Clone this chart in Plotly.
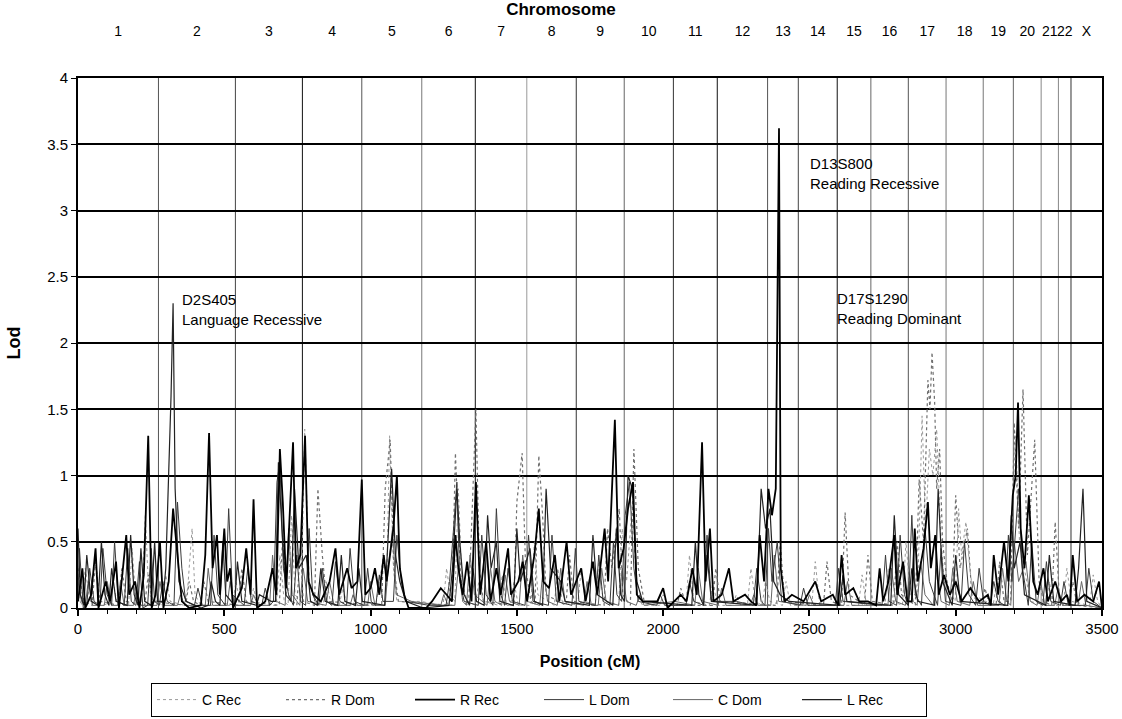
import plotly.graph_objects as go

# ---------------- data ----------------
chrom_labels = ["1", "2", "3", "4", "5", "6", "7", "8", "9", "10", "11", "12",
                "13", "14", "15", "16", "17", "18", "19", "20", "21", "22", "X"]
chrom_bounds = [0, 275, 538, 767, 970, 1175, 1358, 1534, 1703, 1867, 2035, 2185,
                2357, 2462, 2595, 2710, 2838, 2967, 3094, 3197, 3292, 3351, 3394, 3500]

# (position cM, lod) pairs per series
r_rec = [(0,0.05),(15,0.3),(25,0),(45,0.1),(60,0.45),(70,0),(95,0.2),(110,0.05),(130,0.35),(140,0),(165,0.55),(175,0.1),(195,0.2),(210,0),(225,0.25),(240,1.3),(252,0),(265,0.1),(280,0.5),(292,0),(310,0.2),(325,0.75),(340,0.4),(355,0.05),(380,0),(420,0.02),(435,0.4),(448,1.32),(460,0.3),(475,0.55),(485,0.1),(500,0.6),(510,0.2),(520,0.3),(530,0),(560,0.15),(575,0.45),(590,0.1),(600,0.82),(612,0),(640,0.05),(665,0.3),(678,0.1),(690,1.2),(700,0.8),(712,0.15),(735,1.25),(745,0.3),(760,0.4),(776,1.3),(788,0.2),(805,0.1),(830,0.05),(860,0.2),(880,0.45),(893,0.1),(920,0.3),(935,0.15),(955,0.2),(970,0.97),(982,0.1),(1000,0.15),(1015,0.3),(1030,0.1),(1045,0.4),(1055,0.2),(1078,0.6),(1090,1.0),(1100,0.3),(1115,0.1),(1130,0),(1190,0),(1210,0.05),(1240,0.15),(1260,0.1),(1278,0.05),(1290,0.55),(1300,0.3),(1315,0.1),(1330,0.35),(1345,0.05),(1360,0.95),(1375,0.1),(1395,0.5),(1410,0.05),(1430,0.3),(1445,0.1),(1470,0.45),(1480,0.1),(1505,0.2),(1520,0.35),(1535,0.05),(1560,0.4),(1575,0.75),(1590,0.2),(1610,0.15),(1630,0.4),(1645,0.05),(1670,0.5),(1685,0.1),(1720,0.3),(1735,0.05),(1760,0.35),(1775,0.1),(1800,0.6),(1812,0.2),(1835,1.42),(1848,0.3),(1865,0.45),(1880,0.75),(1897,0.95),(1910,0.1),(1930,0.05),(1980,0.05),(2000,0.15),(2015,0),(2060,0.1),(2080,0.05),(2100,0.3),(2115,0.1),(2133,1.25),(2145,0.2),(2160,0.6),(2172,0.05),(2200,0.1),(2225,0.3),(2240,0.05),(2280,0.1),(2300,0.05),(2318,0.02),(2330,0.55),(2345,0.2),(2360,0.9),(2372,0.7),(2385,0.9),(2396,3.62),(2402,0.3),(2415,0.05),(2440,0.1),(2480,0.05),(2520,0.2),(2540,0.05),(2580,0.1),(2598,0.02),(2610,0.4),(2622,0.1),(2650,0.15),(2670,0.05),(2700,0.05),(2728,0.02),(2740,0.3),(2752,0.05),(2770,0.2),(2790,0.55),(2800,0.1),(2820,0.35),(2835,0.05),(2850,0.05),(2860,0.6),(2870,0.2),(2890,0.45),(2905,0.8),(2915,0.3),(2930,0.55),(2942,0.1),(2960,0.25),(2980,0.1),(3000,0.2),(3020,0.05),(3050,0.15),(3080,0.05),(3110,0.1),(3120,0.02),(3130,0.4),(3145,0.1),(3165,0.5),(3180,0.2),(3195,0.85),(3205,1.0),(3213,1.55),(3222,0.6),(3235,0.3),(3250,0.85),(3265,0.2),(3280,0.1),(3300,0.3),(3315,0.05),(3340,0.2),(3360,0.05),(3380,0.1),(3390,0.02),(3400,0.4),(3415,0.05),(3440,0.1),(3470,0.05),(3490,0.2),(3500,0)]

l_rec = [(0,0.6),(8,0.1),(20,0.02),(30,0.4),(45,0.05),(68,0.02),(80,0.5),(92,0.1),(105,0.02),(115,0.3),(130,0.05),(168,0.02),(180,0.55),(192,0.1),(205,0.02),(215,0.45),(228,0.05),(250,0.02),(262,0.5),(272,0.05),(290,0.05),(300,0.3),(318,1.6),(325,2.3),(332,0.9),(345,0.2),(370,0.05),(420,0),(445,0.02),(455,0.2),(470,0.05),(485,0.02),(495,0.5),(505,0.1),(535,0.02),(545,0.35),(560,0.05),(610,0.02),(620,0.1),(660,0.05),(675,0.05),(685,1.1),(697,0.6),(710,0.1),(728,0.05),(740,0.9),(755,0.3),(780,0.4),(795,0.05),(818,0.02),(830,0.3),(845,0.05),(888,0.02),(900,0.4),(912,0.05),(948,0.02),(960,0.3),(972,0.05),(1048,0.02),(1060,0.5),(1072,1.05),(1085,0.4),(1100,0.2),(1120,0.05),(1180,0),(1268,0.02),(1280,0.3),(1295,0.9),(1305,0.5),(1320,0.1),(1338,0.02),(1350,0.3),(1362,0.05),(1388,0.02),(1400,0.7),(1412,0.3),(1430,0.5),(1442,0.05),(1488,0.02),(1500,0.6),(1512,0.2),(1545,0.45),(1560,0.05),(1588,0.02),(1600,0.9),(1615,0.3),(1650,0.2),(1665,0.05),(1748,0.02),(1760,0.55),(1775,0.1),(1828,0.02),(1840,0.6),(1855,0.1),(1868,0.05),(1880,1.0),(1895,0.9),(1910,0.2),(1930,0.05),(2098,0.02),(2110,0.5),(2122,0.1),(2138,0.02),(2150,0.4),(2165,0.05),(2320,0.02),(2335,0.9),(2350,0.6),(2365,0.75),(2378,0.2),(2400,0.1),(2430,0.05),(2603,0.02),(2615,0.25),(2628,0.05),(2778,0.02),(2790,0.7),(2805,0.1),(2838,0.02),(2850,0.3),(2870,0.05),(2928,0.02),(2940,0.9),(2955,0.2),(2988,0.02),(3000,0.4),(3015,0.05),(3178,0.02),(3190,0.7),(3200,0.3),(3220,0.5),(3235,0.1),(3308,0.02),(3320,0.4),(3335,0.05),(3408,0.02),(3420,0.3),(3435,0.9),(3448,0.05),(3500,0)]

r_dom = [(0,0.3),(20,0.05),(48,0.02),(60,0.35),(75,0.05),(138,0.02),(150,0.3),(165,0.05),(228,0.02),(240,0.25),(255,0.05),(368,0.02),(380,0.2),(395,0.05),(418,0.02),(430,0.2),(445,0.05),(548,0.02),(560,0.3),(575,0.05),(688,0.02),(700,0.55),(712,0.1),(748,0.02),(760,0.45),(770,0.05),(808,0.02),(820,0.9),(835,0.4),(850,0.05),(1038,0.02),(1050,0.9),(1067,1.27),(1080,0.3),(1095,0.05),(1278,0.02),(1290,1.17),(1302,0.5),(1315,0.05),(1335,0.02),(1345,0.6),(1360,1.5),(1372,0.3),(1385,0.05),(1490,0.02),(1500,0.8),(1518,1.17),(1530,0.3),(1548,0.05),(1562,0.02),(1575,1.15),(1588,0.7),(1600,0.1),(1668,0.02),(1680,0.4),(1695,0.05),(1798,0.02),(1810,0.6),(1825,0.3),(1850,0.75),(1862,0.1),(1888,0.02),(1900,1.2),(1915,0.3),(1935,0.05),(2048,0.02),(2060,0.15),(2080,0.02),(2168,0.02),(2180,0.3),(2195,0.05),(2388,0.02),(2400,0.5),(2415,0.05),(2548,0.02),(2560,0.35),(2575,0.05),(2610,0.02),(2622,0.72),(2636,0.1),(2688,0.02),(2700,0.4),(2715,0.05),(2788,0.02),(2800,0.5),(2815,0.1),(2862,0.02),(2875,0.97),(2890,0.5),(2905,1.72),(2912,1.5),(2919,1.93),(2928,1.55),(2935,0.9),(2945,1.2),(2955,0.5),(2970,0.2),(2988,0.05),(3000,0.85),(3015,0.3),(3040,0.6),(3055,0.1),(3088,0.02),(3100,0.15),(3115,0.02),(3138,0.02),(3150,0.35),(3165,0.05),(3188,0.05),(3200,1.4),(3215,0.6),(3230,1.65),(3245,0.4),(3270,1.27),(3285,0.2),(3300,0.05),(3328,0.02),(3340,0.65),(3355,0.05),(3388,0.02),(3400,0.2),(3415,0.02),(3500,0)]

l_dom = [(0,0.1),(5,0.45),(18,0),(30,0.02),(40,0.3),(55,0.05),(75,0.02),(85,0.45),(100,0.1),(115,0.02),(125,0.5),(138,0.05),(158,0.02),(170,0.45),(182,0.05),(198,0.02),(210,0.35),(222,0),(238,0.02),(250,0.45),(262,0.05),(278,0.02),(290,0.2),(305,0.05),(328,0.02),(340,0.8),(355,0.3),(368,0.05),(398,0.02),(410,0.15),(425,0.02),(453,0.02),(465,0.55),(478,0.1),(503,0.02),(515,0.75),(528,0.1),(568,0.02),(580,0.3),(592,0.05),(628,0.02),(640,0.15),(655,0.02),(668,0.05),(680,0.95),(690,1.1),(702,0.3),(720,0.1),(736,0.02),(748,0.4),(760,0.05),(778,0.02),(790,0.6),(802,0.1),(823,0.02),(835,0.3),(850,0.05),(868,0.02),(880,0.35),(895,0.05),(918,0.02),(930,0.45),(945,0.05),(978,0.02),(990,0.3),(1002,0.05),(1018,0.02),(1030,0.25),(1042,0.05),(1078,0.05),(1090,0.55),(1105,0.2),(1120,0.05),(1200,0.02),(1258,0.02),(1270,0.2),(1282,0.55),(1295,0.95),(1305,0.2),(1320,0.05),(1368,0.02),(1380,0.55),(1395,0.1),(1418,0.02),(1430,0.75),(1445,0.1),(1458,0.02),(1470,0.3),(1485,0.05),(1528,0.02),(1540,0.55),(1555,0.05),(1608,0.02),(1620,0.55),(1635,0.05),(1688,0.02),(1700,0.45),(1712,0.05),(1768,0.02),(1780,0.4),(1795,0.05),(1818,0.02),(1830,0.5),(1842,0.1),(1858,0.05),(1870,0.7),(1885,0.95),(1900,0.3),(1915,0.05),(1978,0.02),(1990,0.1),(2005,0.02),(2078,0.02),(2090,0.2),(2105,0.05),(2138,0.02),(2150,0.55),(2165,0.05),(2250,0.05),(2308,0.02),(2320,0.3),(2335,0.05),(2348,0.02),(2360,0.6),(2372,0.2),(2390,0.5),(2405,0.05),(2468,0.02),(2480,0.15),(2495,0.02),(2588,0.02),(2600,0.3),(2615,0.05),(2748,0.02),(2760,0.4),(2772,0.05),(2798,0.02),(2810,0.55),(2825,0.1),(2838,0.02),(2850,0.7),(2862,0.1),(2883,0.02),(2895,0.6),(2910,0.2),(2938,0.02),(2950,0.45),(2965,0.05),(3018,0.02),(3030,0.5),(3045,0.1),(3068,0.02),(3080,0.3),(3095,0.05),(3118,0.02),(3130,0.2),(3145,0.05),(3168,0.02),(3180,0.55),(3192,0.2),(3215,0.9),(3228,0.3),(3248,0.02),(3260,0.5),(3275,0.05),(3298,0.02),(3310,0.35),(3325,0.05),(3358,0.02),(3370,0.2),(3385,0.02),(3443,0.02),(3455,0.3),(3470,0.05),(3500,0)]

c_dom = [(0,0.2),(12,0.05),(25,0.02),(35,0.2),(50,0.02),(90,0.02),(100,0.2),(115,0.02),(135,0.02),(145,0.2),(158,0.02),(190,0.02),(200,0.15),(215,0.02),(270,0.02),(280,0.2),(295,0.02),(340,0.02),(350,0.1),(365,0.02),(435,0.02),(445,0.3),(460,0.02),(510,0.02),(520,0.2),(535,0.02),(590,0.02),(600,0.1),(615,0.02),(655,0.02),(665,0.4),(678,0.05),(708,0.02),(720,0.6),(732,0.1),(758,0.02),(770,0.3),(785,0.05),(848,0.02),(860,0.2),(875,0.02),(930,0.02),(940,0.1),(955,0.02),(990,0.02),(1000,0.2),(1015,0.02),(1050,0.02),(1060,0.3),(1075,0.6),(1088,0.1),(1140,0.05),(1240,0.02),(1250,0.1),(1265,0.02),(1288,0.02),(1300,0.3),(1315,0.05),(1328,0.02),(1340,0.4),(1355,0.1),(1398,0.02),(1410,0.3),(1425,0.05),(1448,0.02),(1460,0.25),(1475,0.05),(1508,0.02),(1520,0.4),(1535,0.05),(1578,0.02),(1590,0.3),(1605,0.05),(1638,0.02),(1650,0.3),(1665,0.05),(1728,0.02),(1740,0.2),(1755,0.02),(1778,0.02),(1790,0.3),(1805,0.05),(1848,0.02),(1860,0.3),(1875,0.05),(1908,0.02),(1920,0.1),(1935,0.02),(2040,0.05),(2108,0.02),(2120,0.3),(2135,0.05),(2188,0.02),(2200,0.15),(2215,0.02),(2298,0.02),(2310,0.1),(2325,0.02),(2368,0.02),(2380,0.4),(2395,0.05),(2488,0.02),(2500,0.1),(2515,0.02),(2618,0.02),(2630,0.2),(2645,0.02),(2768,0.02),(2780,0.3),(2795,0.05),(2828,0.02),(2840,0.2),(2855,0.05),(2868,0.02),(2880,0.35),(2895,0.1),(2923,0.02),(2935,0.3),(2950,0.05),(2978,0.02),(2990,0.3),(3005,0.05),(3048,0.02),(3060,0.2),(3075,0.02),(3148,0.02),(3160,0.3),(3175,0.05),(3188,0.02),(3200,0.5),(3215,0.2),(3240,0.35),(3255,0.05),(3278,0.02),(3290,0.2),(3305,0.02),(3338,0.02),(3350,0.15),(3365,0.02),(3418,0.02),(3430,0.2),(3445,0.02),(3500,0)]

c_rec = [(0,0.1),(12,0.02),(25,0.3),(40,0.05),(108,0.02),(120,0.2),(135,0.02),(173,0.02),(185,0.45),(198,0.05),(218,0.02),(230,0.7),(242,0.1),(288,0.02),(300,0.25),(315,0.05),(363,0.02),(375,0.15),(390,0.6),(400,0.1),(420,0.02),(528,0.02),(540,0.2),(555,0.02),(588,0.02),(600,0.15),(615,0.02),(678,0.02),(690,0.4),(705,0.05),(718,0.02),(730,0.7),(742,0.1),(763,0.05),(775,1.35),(790,0.2),(810,0.05),(838,0.02),(850,0.2),(865,0.02),(893,0.02),(905,0.15),(920,0.02),(1018,0.02),(1030,0.2),(1045,0.4),(1055,0.15),(1065,1.3),(1078,0.3),(1090,0.05),(1170,0.05),(1248,0.02),(1260,0.3),(1272,0.1),(1288,0.05),(1300,0.9),(1312,0.2),(1330,0.05),(1358,0.02),(1370,0.2),(1385,0.05),(1438,0.02),(1450,0.25),(1465,0.02),(1478,0.02),(1490,0.2),(1505,0.02),(1548,0.02),(1560,0.5),(1572,0.1),(1628,0.02),(1640,0.3),(1655,0.05),(1708,0.02),(1720,0.3),(1735,0.05),(1768,0.02),(1780,0.35),(1795,0.05),(1848,0.02),(1860,0.6),(1875,0.2),(1895,0.8),(1910,0.1),(1930,0.02),(1988,0.02),(2000,0.1),(2015,0.02),(2078,0.02),(2090,0.4),(2105,0.05),(2158,0.02),(2170,0.2),(2185,0.02),(2238,0.02),(2250,0.1),(2265,0.02),(2288,0.02),(2300,0.3),(2315,0.05),(2338,0.02),(2350,0.2),(2365,0.05),(2408,0.02),(2420,0.2),(2435,0.02),(2508,0.02),(2520,0.35),(2535,0.02),(2668,0.02),(2680,0.25),(2695,0.02),(2758,0.02),(2770,0.3),(2785,0.05),(2818,0.02),(2830,0.5),(2845,0.1),(2870,0.1),(2885,1.45),(2897,0.6),(2910,1.2),(2922,1.0),(2935,1.35),(2948,0.6),(2960,0.2),(2998,0.05),(3010,0.75),(3020,0.4),(3035,0.65),(3048,0.3),(3060,0.1),(3128,0.02),(3140,0.2),(3155,0.02),(3178,0.02),(3190,0.6),(3205,1.3),(3218,0.5),(3240,0.25),(3255,0.05),(3308,0.02),(3320,0.2),(3335,0.02),(3368,0.02),(3380,0.3),(3395,0.05),(3458,0.02),(3470,0.25),(3485,0.05),(3500,0)]

# ---------------- figure ----------------
FONT = "Liberation Sans, Arial, sans-serif"
fig = go.Figure()

# series: (name, data, color, width, dash, legend rank)
series = [
    ("C Rec", c_rec, "#9a9a9a", 1.0, "dot", 1),
    ("C Dom", c_dom, "#666666", 1.0, "solid", 5),
    ("R Dom", r_dom, "#707070", 1.2, "dot", 2),
    ("L Dom", l_dom, "#3a3a3a", 1.0, "solid", 4),
    ("L Rec", l_rec, "#222222", 1.2, "solid", 6),
    ("R Rec", r_rec, "#000000", 1.8, "solid", 3),
]
for name, data, col, w, dash, rank in series:
    fig.add_trace(go.Scatter(x=[p for p, _ in data], y=[v for _, v in data], mode="lines", name=name,
                             line=dict(color=col, width=w, dash=dash),
                             legendrank=rank))

# invisible trace to activate top axis
mids = [(chrom_bounds[i] + chrom_bounds[i + 1]) / 2 for i in range(len(chrom_labels))]
fig.add_trace(go.Scatter(x=mids, y=[None] * len(mids), xaxis="x2", showlegend=False,
                         hoverinfo="skip", mode="lines"))

# chromosome boundary lines
bound_colors = ["#555555", "#444444", "#111111", "#555555", "#777777", "#111111", "#999999",
                "#333333", "#666666", "#333333", "#111111", "#555555", "#444444", "#111111",
                "#666666", "#555555", "#777777", "#777777", "#666666", "#888888", "#888888", "#333333"]
for i, b in enumerate(chrom_bounds[1:-1]):
    fig.add_shape(type="line", xref="x", yref="paper", x0=b, x1=b, y0=0, y1=1,
                  line=dict(color=bound_colors[i % len(bound_colors)], width=1), layer="below")

annots = [
    (350, 2.25, "D2S405<br>Language Recessive"),
    (2495, 3.28, "D13S800<br>Reading Recessive"),
    (2587, 2.26, "D17S1290<br>Reading Dominant"),
]
for ax_, ay_, txt in annots:
    fig.add_annotation(x=ax_, y=ay_, xref="x", yref="y", text=txt, showarrow=False,
                       xanchor="left", yanchor="middle", align="left",
                       font=dict(family=FONT, size=15, color="black"))

fig.update_layout(
    width=1122, height=719,
    margin=dict(l=78, r=20, t=78, b=111),
    paper_bgcolor="white", plot_bgcolor="white",
    font=dict(family=FONT, size=15, color="black"),
    title=dict(text="<b>Chromosome</b>", x=0.5, xref="container", xanchor="center",
               y=1 - 9 / 719, yref="container", yanchor="middle",
               font=dict(family=FONT, size=17, color="black")),
    showlegend=True,
    legend=dict(orientation="h", xref="container", x=539 / 1122, xanchor="center",
                yref="container", yanchor="bottom", y=2 / 719,
                bordercolor="black", borderwidth=1, bgcolor="white",
                font=dict(family=FONT, size=14), entrywidth=74, entrywidthmode="pixels",
                itemwidth=40, traceorder="normal", tracegroupgap=0),
    xaxis=dict(range=[0, 3500], tickvals=[0, 500, 1000, 1500, 2000, 2500, 3000, 3500],
               automargin=False,
               showgrid=False, zeroline=False, showline=True, linecolor="black", linewidth=2,
               ticks="outside", ticklen=6, tickwidth=2, tickcolor="black",
               minor=dict(dtick=100, ticks="outside", ticklen=4, tickwidth=1, tickcolor="black"),
               tickfont=dict(size=15),
               title=dict(text="<b>Position (cM)</b>", font=dict(size=16), standoff=20)),
    xaxis2=dict(range=[0, 3500], overlaying="x", side="top", tickvals=mids, ticktext=chrom_labels,
                automargin=False, tickangle=0,
                showgrid=False, zeroline=False, showline=True, linecolor="black", linewidth=2,
                ticks="", tickfont=dict(size=14), ticklabelstandoff=34),
    yaxis=dict(range=[0, 4], dtick=0.5, showgrid=True, gridcolor="black", gridwidth=1.5,
               automargin=False,
               zeroline=False, showline=True, linecolor="black", linewidth=2, mirror=True,
               ticks="outside", ticklen=5, tickwidth=1, tickcolor="black", tickfont=dict(size=15),
               title=dict(text="<b>Lod</b>", font=dict(size=18), standoff=22)),
)

fig.write_html("out.html")
